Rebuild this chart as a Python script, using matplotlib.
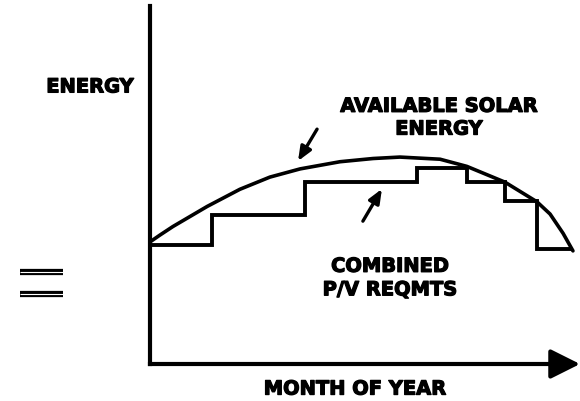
import numpy as np
import matplotlib
matplotlib.use("Agg")
import matplotlib.pyplot as plt
import matplotlib.patheffects as pe

# available solar energy curve (month, energy, arbitrary units)
solar_month = [0.0, 0.28, 0.65, 1.62, 2.55, 3.40, 4.26, 5.39, 6.33, 7.09, 8.23, 8.99, 10.07, 10.98, 11.35, 11.72, 12.0]
solar_energy = [3.41, 3.60, 3.84, 4.40, 4.88, 5.22, 5.45, 5.65, 5.74, 5.78, 5.72, 5.52, 5.08, 4.53, 4.19, 3.65, 3.16]

# combined P/V requirement steps
req_edges = [0.0, 1.76, 4.40, 7.57, 8.99, 10.07, 10.98, 11.97]
req_levels = [3.32, 4.16, 5.08, 5.47, 5.08, 4.55, 3.21]

# the two stray dashes at left of the scan
dash_x = [-3.69, -2.47]
dash_y = [2.57, 1.96]

plt.rcParams['font.family'] = ['DejaVu Sans']
heavy = [pe.withStroke(linewidth=0.9, foreground='black')]
txt = dict(fontsize=14, fontweight='bold', color='black', ha='center', va='center',
           path_effects=heavy)

fig = plt.figure(figsize=(5.8, 4.02), dpi=100)
fig.patch.set_facecolor('white')
ax = fig.add_axes([150 / 580, 37 / 402, 430 / 580, 358 / 402])
ax.set_xlim(0, 12.2)
ax.set_ylim(0, 10)
ax.set_xticks([])
ax.set_yticks([])
for s in ['top', 'right']:
    ax.spines[s].set_visible(False)
for s in ['left', 'bottom']:
    ax.spines[s].set_linewidth(3.0)
    ax.spines[s].set_capstyle('projecting')
ax.spines['bottom'].set_bounds(0, 11.6)

# arrowhead on the month axis
ax.annotate('', xy=(12.2, 0), xytext=(11.3, 0), xycoords='data',
            arrowprops=dict(arrowstyle='-|>,head_length=0.9,head_width=0.45',
                            mutation_scale=20, lw=3.0, color='black',
                            shrinkA=0, shrinkB=0), annotation_clip=False)

ax.plot(solar_month, solar_energy, color='black', lw=2.6, solid_capstyle='round',
        solid_joinstyle='round', clip_on=False)
ax.stairs(req_levels, req_edges, baseline=None, color='black', lw=2.8, clip_on=False)

# pointer arrows
ax.annotate('', xy=(4.20, 5.67), xytext=(4.74, 6.56),
            arrowprops=dict(arrowstyle='-|>,head_length=0.6,head_width=0.25',
                            mutation_scale=14, lw=2.4, color='black', shrinkA=0, shrinkB=0))
ax.annotate('', xy=(6.58, 4.89), xytext=(6.04, 3.99),
            arrowprops=dict(arrowstyle='-|>,head_length=0.6,head_width=0.25',
                            mutation_scale=14, lw=2.4, color='black', shrinkA=0, shrinkB=0))

ax.text(-1.70, 7.74, 'ENERGY', clip_on=False, **txt)
ax.text(8.20, 6.88, 'AVAILABLE SOLAR\nENERGY', linespacing=1.25, **txt)
ax.text(6.81, 2.40, 'COMBINED\nP/V REQMTS', linespacing=1.3, **txt)
ax.text(5.82, -0.70, 'MONTH OF YEAR', clip_on=False, **txt)

for y in dash_y:
    ax.plot(dash_x, [y, y], color='black', lw=4.5, solid_capstyle='butt', clip_on=False)
    ax.plot(dash_x, [y, y], color='white', lw=0.8, solid_capstyle='butt', clip_on=False)

fig.savefig('out.png', dpi=100)
